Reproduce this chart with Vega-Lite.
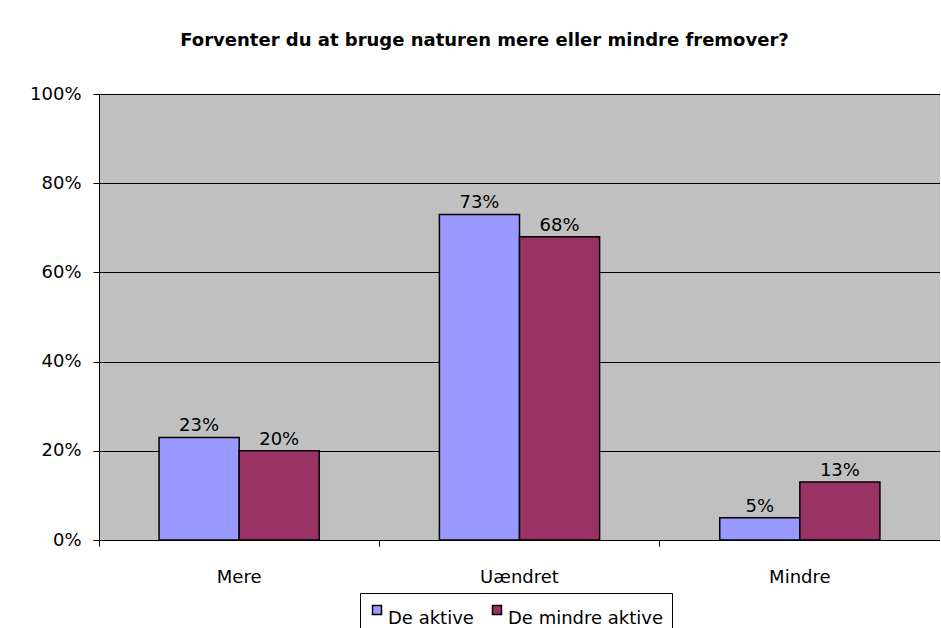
{
  "$schema": "https://vega.github.io/schema/vega-lite/v6.json",
  "width": 841,
  "height": 446,
  "autosize": {"type": "none"},
  "padding": {"left": 99, "top": 94, "right": 0, "bottom": 88},
  "background": "white",
  "title": {
    "text": "Forventer du at bruge naturen mere eller mindre fremover?",
    "font": "DejaVu Sans",
    "fontSize": 18,
    "fontWeight": "bold",
    "color": "black",
    "anchor": "middle",
    "frame": "group",
    "offset": 35,
    "dx": -35
  },
  "data": {
    "values": [
      {"kategori": "Mere", "gruppe": "De aktive", "andel": 0.23},
      {"kategori": "Mere", "gruppe": "De mindre aktive", "andel": 0.20},
      {"kategori": "Uændret", "gruppe": "De aktive", "andel": 0.73},
      {"kategori": "Uændret", "gruppe": "De mindre aktive", "andel": 0.68},
      {"kategori": "Mindre", "gruppe": "De aktive", "andel": 0.05},
      {"kategori": "Mindre", "gruppe": "De mindre aktive", "andel": 0.13}
    ]
  },
  "encoding": {
    "x": {
      "field": "kategori",
      "type": "nominal",
      "sort": ["Mere", "Uændret", "Mindre"],
      "scale": {"paddingInner": 0, "paddingOuter": 0},
      "axis": {
        "title": null,
        "labelAngle": 0,
        "labelFont": "DejaVu Sans",
        "labelFontSize": 18,
        "labelColor": "black",
        "labelPadding": 22,
        "bandPosition": 0,
        "tickSize": 6,
        "tickColor": "black",
        "domainColor": "black",
        "grid": false
      }
    },
    "xOffset": {
      "field": "gruppe",
      "type": "nominal",
      "sort": ["De aktive", "De mindre aktive"],
      "scale": {"paddingInner": 0, "paddingOuter": 0.75}
    },
    "y": {
      "field": "andel",
      "type": "quantitative",
      "scale": {"domain": [0, 1]},
      "axis": {
        "title": null,
        "format": ".0%",
        "values": [0, 0.2, 0.4, 0.6, 0.8, 1],
        "labelFont": "DejaVu Sans",
        "labelFontSize": 18,
        "labelColor": "black",
        "labelPadding": 12,
        "tickSize": 6,
        "tickColor": "black",
        "domainColor": "black",
        "grid": true,
        "gridColor": "black",
        "gridOpacity": 1,
        "gridWidth": 1
      }
    }
  },
  "layer": [
    {
      "mark": {"type": "bar", "stroke": "black", "strokeWidth": 1.5},
      "encoding": {
        "color": {
          "field": "gruppe",
          "type": "nominal",
          "scale": {"domain": ["De aktive", "De mindre aktive"], "range": ["#9999FF", "#993366"]},
          "legend": {
            "title": null,
            "orient": "none",
            "legendX": 261,
            "legendY": 499,
            "direction": "horizontal",
            "symbolType": "square",
            "symbolSize": 81,
            "symbolStrokeColor": "black",
            "symbolStrokeWidth": 1.5,
            "symbolOpacity": 1,
            "labelFont": "DejaVu Sans",
            "labelFontSize": 18,
            "labelColor": "black",
            "labelBaseline": "top",
            "labelOffset": 2,
            "columnPadding": 14,
            "strokeColor": "black",
            "fillColor": "white",
            "padding": 8
          }
        }
      }
    },
    {
      "mark": {"type": "text", "baseline": "bottom", "dy": -2, "font": "DejaVu Sans", "fontSize": 18, "color": "black"},
      "encoding": {
        "text": {"field": "andel", "type": "quantitative", "format": ".0%"}
      }
    }
  ],
  "config": {
    "view": {"fill": "#C0C0C0", "stroke": null}
  }
}
